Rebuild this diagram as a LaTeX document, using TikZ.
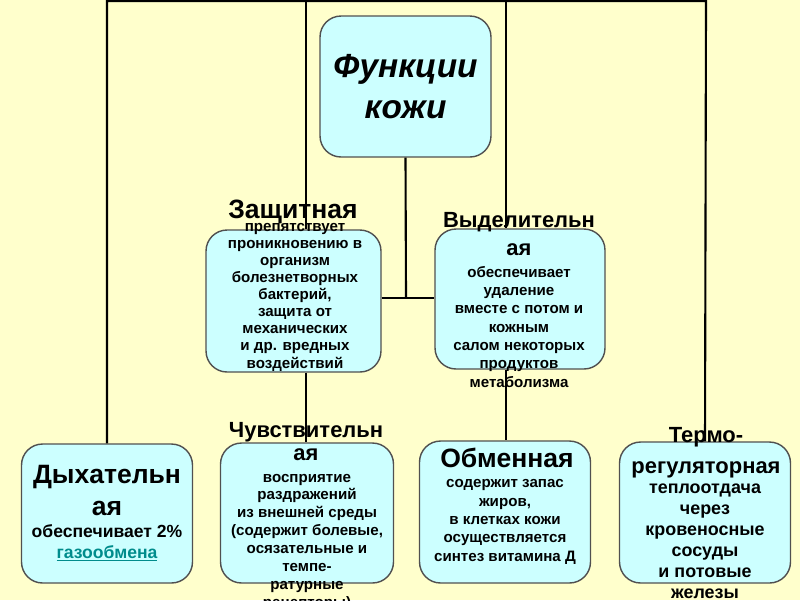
\documentclass[tikz,border=0pt]{standalone}
\usepackage{fontspec}
\setmainfont{Liberation Sans}
\definecolor{bgY}{RGB}{255,255,204}
\definecolor{boxC}{RGB}{204,255,255}
\definecolor{boxE}{RGB}{80,80,80}
\definecolor{linkT}{RGB}{0,140,140}

\begin{document}
\begin{tikzpicture}[x=0.02cm,y=-0.02cm,
  box/.style={draw=boxE,fill=boxC,line width=0.8pt,rounded corners=0.42cm,inner sep=0pt,minimum width=3.42cm,minimum height=2.82cm},
  conn/.style={line width=1.2pt},
  headL/.style={font=\bfseries\fontsize{15.1}{18}\selectfont,align=center,inner sep=0pt,anchor=base},
  headM/.style={font=\bfseries\fontsize{12.5}{15}\selectfont,align=center,inner sep=0pt,anchor=base},
  txt/.style={font=\bfseries\fontsize{8.6}{10.4}\selectfont,align=center,inner sep=0pt,anchor=base}]
\fill[bgY] (0,0) rectangle (800,600);
\useasboundingbox (0,0) rectangle (800,600);
% boxes
\node[box,font=\bfseries\itshape\fontsize{19}{23.3}\selectfont,align=center] (fk) at (405.5,86.5) {Функции\\кожи};
\node[box,minimum width=3.5cm,minimum height=2.84cm] (zash) at (293.5,301) {};
\node[box,minimum width=3.4cm,minimum height=2.8cm] (vyd) at (520,299) {};
\node[box,minimum width=3.42cm,minimum height=2.78cm] (dyh) at (107,513.5) {};
\node[box,minimum width=3.46cm,minimum height=2.8cm] (chuv) at (307,513) {};
\node[box,minimum width=3.42cm,minimum height=2.84cm] (obm) at (505,512) {};
\node[box,minimum width=3.42cm,minimum height=2.82cm] (term) at (705,512.5) {};
% connectors
\coordinate (tl) at (107,1);
\coordinate (tr) at (706,1);
\coordinate (ta) at (306,1);
\coordinate (tb) at (506,1);
\coordinate (jn) at (406,298);
\draw[conn] (dyh.north) -- (tl) -- (tr) -- (term.north);
\draw[conn] (ta) -- (zash.north -| ta);
\draw[conn] (tb) -- (vyd.north -| tb);
\draw[conn] (fk.south) -- (jn);
\draw[conn] (zash.east |- jn) -- (vyd.west |- jn);
\draw[conn] (zash.south -| ta) -- (chuv.north -| ta);
\draw[conn] (vyd.south -| tb) -- (obm.north -| tb);
% texts (base = last line)
\node[headL] (zashH) at (293,218) {Защитная};
\node[txt,font=\bfseries\fontsize{8.6}{9.7}\selectfont] (zashT) at (295,368) {препятствует\\проникновению в\\организм\\болезнетворных\\бактерий,\\защита от\\механических\\и др. вредных\\воздействий};
\node[headM,font=\bfseries\fontsize{12.5}{15.4}\selectfont] (vydH) at (519,255) {Выделительн\\ая};
\node[txt] (vydT) at (519,387) {обеспечивает\\удаление\\вместе с потом и\\кожным\\салом некоторых\\продуктов\\метаболизма};
\node[headL] (dyhH) at (107,515) {Дыхательн\\ая};
\node[txt,font=\bfseries\fontsize{10}{11.4}\selectfont] (dyhT) at (107,558) {обеспечивает 2\%\\{\color{linkT}\underline{газообмена}}};
\node[headM,font=\bfseries\fontsize{12.5}{13}\selectfont] (chuvH) at (306,460) {Чувствительн\\ая};
\node[txt,font=\bfseries\fontsize{8.6}{10.2}\selectfont] (chuvT) at (307,607.5) {восприятие\\раздражений\\из внешней среды\\(содержит болевые,\\осязательные и\\темпе-\\ратурные\\рецепторы)};
\node[headL] (obmH) at (507,467) {Обменная};
\node[txt] (obmT) at (505,561) {содержит запас\\жиров,\\в клетках кожи\\осуществляется\\синтез витамина Д};
\node[headM,font=\bfseries\fontsize{12.5}{17.6}\selectfont] (termH) at (706,473) {Термо-\\регуляторная};
\node[txt,font=\bfseries\fontsize{10.2}{12}\selectfont] (termT) at (705,598.5) {теплоотдача\\через\\кровеносные\\сосуды\\и потовые\\железы};
\end{tikzpicture}
\end{document}
